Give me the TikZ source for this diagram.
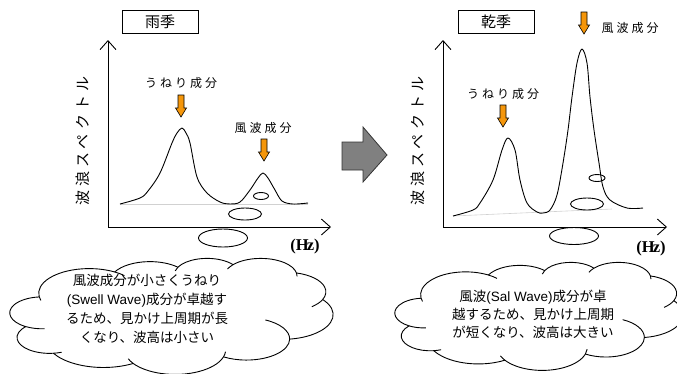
\documentclass[tikz,border=0pt]{standalone}
\usepackage{fontspec}
\setmainfont{Noto Sans CJK JP}
\newfontfamily\hzfont{Liberation Serif}
\newfontfamily\latinsans{Liberation Sans}
\usetikzlibrary{arrows.meta}
\definecolor{peakorange}{RGB}{245,150,10}
\definecolor{blockgrey}{RGB}{128,128,128}
\tikzset{
  axis/.style={line width=0.9pt, -{Straight Barb[length=9pt,width=16pt,line width=0.9pt]}},
  season/.style={draw, line width=1pt, minimum width=76pt, minimum height=23pt, inner sep=0pt, font=\fontsize{15}{15}\selectfont},
  peaklabel/.style={inner sep=0pt, font=\fontsize{12}{12}\selectfont\addfontfeature{LetterSpace=25}},
  ylab/.style={rotate=90, inner sep=0pt, font=\fontsize{15}{15}\selectfont\addfontfeature{LetterSpace=28}},
  hz/.style={inner sep=0pt, font=\hzfont\bfseries\fontsize{16.5}{16.5}\selectfont},
  spec/.style={line width=0.9pt, line join=round},
  basegrey/.style={draw=black!18, line width=0.6pt},
  bubble/.style={draw, line width=0.9pt},
  cloudline/.style={draw, line width=0.9pt, line join=round},
  cloudtext/.style={align=center, inner sep=0pt},
  oarr/.pic={\draw[fill=peakorange, line width=0.6pt, line join=miter] (-3,0) -- (3,0) -- (3,13) -- (5.5,13) -- (0,22) -- (-5.5,13) -- (-3,13) -- cycle;},
}
% convert an OOXML arcTo (visual angles) to TikZ parametric start / delta
\newcommand\pptprep[5]{%
  \pgfmathsetmacro\pptTs{atan2((#2)*sin(#4),(#3)*cos(#4))}%
  \pgfmathsetmacro\pptTe{atan2((#2)*sin((#4)+(#5)),(#3)*cos((#4)+(#5)))}%
  \pgfmathsetmacro\pptTd{\pptTe-\pptTs}%
  \pgfmathsetmacro\pptTd{ifthenelse((#5)>0, ifthenelse(\pptTd<0,\pptTd+360,\pptTd), ifthenelse(\pptTd>0,\pptTd-360,\pptTd))}%
  \expandafter\xdef\csname ppt#1s\endcsname{\pptTs}%
  \expandafter\xdef\csname ppt#1d\endcsname{\pptTd}%
}
\pptprep{A}{67.53}{91.90}{-190.48748}{123.78053}
\pptprep{B}{53.33}{72.67}{-144.10238}{89.94523}
\pptprep{C}{43.65}{59.45}{-145.80792}{99.72302}
\pptprep{D}{48.57}{65.95}{-130.98607}{117.24173}
\pptprep{E}{53.33}{72.73}{-78.70888}{109.02692}
\pptprep{F}{67.75}{92.20}{-46.26725}{130.269}
\pptprep{G}{57.85}{78.67}{0.62502}{114.03333}
\pptprep{H}{67.52}{92.15}{22.4516}{115.17255}
\pptprep{I}{77.20}{105.43}{66.24263}{75.71102}
\pptprep{J}{43.60}{59.18}{-274.94208}{146.73557}
\pptprep{K}{43.45}{59.45}{-246.8285}{152.51885}
\pptprep{a}{43.45}{59.45}{113.1715}{-26.4295}
\pptprep{b}{43.60}{59.18}{85.058}{-11.4475}
\pptprep{c}{67.52}{92.15}{137.6242}{14.0811}
\pptprep{d}{67.52}{92.15}{22.4517}{-15.9984}
\pptprep{e}{57.85}{78.67}{0.625}{-70.9174}
\pptprep{f}{53.33}{72.73}{30.318}{27.7515}
\pptprep{g}{48.57}{65.95}{-13.7443}{14.8589}
\pptprep{h}{48.57}{65.95}{-130.9861}{-18.1954}
\pptprep{i}{43.65}{59.45}{-145.8079}{-17.6864}
\pptprep{j}{67.53}{91.90}{-66.707}{12.3194}
\pptprep{k}{67.53}{91.90}{169.5126}{-11.8582}
% cloud outline in a 432 x 432 box (y down)
\newcommand\pptcloud[1]{%
  \draw[cloudline, fill=white] (39.00,143.70) coordinate (#1j0)
    arc[start angle=\pptAs, delta angle=\pptAd, x radius=67.53, y radius=91.90] coordinate (#1j1)
    arc[start angle=\pptBs, delta angle=\pptBd, x radius=53.33, y radius=72.67] coordinate (#1j2)
    arc[start angle=\pptCs, delta angle=\pptCd, x radius=43.65, y radius=59.45] coordinate (#1j3)
    arc[start angle=\pptDs, delta angle=\pptDd, x radius=48.57, y radius=65.95] coordinate (#1j4)
    arc[start angle=\pptEs, delta angle=\pptEd, x radius=53.33, y radius=72.73] coordinate (#1j5)
    arc[start angle=\pptFs, delta angle=\pptFd, x radius=67.75, y radius=92.20] coordinate (#1j6)
    arc[start angle=\pptGs, delta angle=\pptGd, x radius=57.85, y radius=78.67] coordinate (#1j7)
    arc[start angle=\pptHs, delta angle=\pptHd, x radius=67.52, y radius=92.15] coordinate (#1j8)
    arc[start angle=\pptIs, delta angle=\pptId, x radius=77.20, y radius=105.43] coordinate (#1j9)
    arc[start angle=\pptJs, delta angle=\pptJd, x radius=43.60, y radius=59.18] coordinate (#1j10)
    arc[start angle=\pptKs, delta angle=\pptKd, x radius=43.45, y radius=59.45] -- cycle;
  \draw[cloudline] (#1j10) arc[start angle=\pptas, delta angle=\pptad, x radius=43.45, y radius=59.45];
  \draw[cloudline] (#1j9) arc[start angle=\pptbs, delta angle=\pptbd, x radius=43.60, y radius=59.18];
  \draw[cloudline] (#1j8) arc[start angle=\pptcs, delta angle=\pptcd, x radius=67.52, y radius=92.15];
  \draw[cloudline] (#1j7) arc[start angle=\pptds, delta angle=\pptdd, x radius=67.52, y radius=92.15];
  \draw[cloudline] (#1j6) arc[start angle=\pptes, delta angle=\ppted, x radius=57.85, y radius=78.67];
  \draw[cloudline] (#1j5) arc[start angle=\pptfs, delta angle=\pptfd, x radius=53.33, y radius=72.73];
  \draw[cloudline] (#1j4) arc[start angle=\pptgs, delta angle=\pptgd, x radius=48.57, y radius=65.95];
  \draw[cloudline] (#1j3) arc[start angle=\pptHhs, delta angle=\pptHhd, x radius=48.57, y radius=65.95];
  \draw[cloudline] (#1j2) arc[start angle=\pptis, delta angle=\pptid, x radius=43.65, y radius=59.45];
  \draw[cloudline] (#1j1) arc[start angle=\pptjs, delta angle=\pptjd, x radius=67.53, y radius=91.90];
  \draw[cloudline] (#1j0) arc[start angle=\pptks, delta angle=\pptkd, x radius=67.53, y radius=91.90];
}
\let\pptHhs\relax
\begin{document}
\expandafter\let\expandafter\pptHhs\csname ppths\endcsname
\expandafter\let\expandafter\pptHhd\csname ppthd\endcsname
\begin{tikzpicture}[x=1pt,y=-1pt]
\useasboundingbox (0,0) rectangle (677,373);

% ---------------- left panel (rainy season) ----------------
\node[season] (rainy) at (160,21.5) {雨季};
\coordinate (lo) at (108,227);
\coordinate (ly) at (108,40);
\coordinate (lx) at (331,227);
\draw[axis] (lo) -- (ly);
\draw[axis] (lo) -- (lx);
\node[ylab] (lylab) at (83,141) {波浪スペクトル};
\node[hz] (lhz) at (305,247) {(H\kern-2pt z)};
\draw[basegrey] (120,204) -- (308,204);
\draw[spec] plot[smooth, tension=0.55] coordinates {
 (120,204) (140,198) (148,191) (160,173) (172,143) (177,133) (182,128) (186,133) (190,143)
 (197,177) (207,193) (220,202) (230,204) (240,202) (250,190) (258,178) (263,173) (268,178)
 (275,190) (282,201) (293,204) (308,203)};
\node[peaklabel] (lswell) at (181,83) {うねり成分};
\pic at (181,95) {oarr};
\node[peaklabel] (lwind) at (263,128) {風波成分};
\pic at (264,139) {oarr};
\draw[bubble] (261,196) ellipse [x radius=7.5, y radius=3.5];
\draw[bubble] (245,214) ellipse [x radius=16.5, y radius=6];
\draw[bubble] (223,238) ellipse [x radius=24.5, y radius=9];
\begin{scope}[shift={(10,258)}, x=0.74769pt, y=-0.26852pt]
  \pptcloud{L}
\end{scope}
\node[cloudtext, font=\fontsize{13.5}{19}\selectfont] (ltext) at (147,308.5) {風波成分が小さくうねり\\{\latinsans (Swell Wave)}成分が卓越す\\るため、見かけ上周期が長\\くなり、波高は小さい};

% ---------------- block arrow ----------------
\draw[fill=blockgrey, line width=0.8pt, draw=black!80] (342,142) -- (363,142) -- (363,127) -- (387,155) -- (363,182) -- (363,170) -- (342,170) -- cycle;

% ---------------- right panel (dry season) ----------------
\node[season] (dry) at (496,21.5) {乾季};
\coordinate (ro) at (443,227);
\coordinate (ry) at (443,40);
\coordinate (rx) at (667,227);
\draw[axis] (ro) -- (ry);
\draw[axis] (ro) -- (rx);
\node[ylab] (rylab) at (418,141) {波浪スペクトル};
\node[hz] (rhz) at (651,249) {(H\kern-2pt z)};
\draw[basegrey] (453,216) -- (612,209);
\draw[spec] plot[smooth, tension=0.55] coordinates {
 (453,216) (473,210) (480,203) (493,180) (502,150) (508,138) (515,150) (520,180) (527,203)
 (537,212) (543,213) (550,210) (557,195) (563,163) (568,130) (572,97) (577,63) (582,49)
 (587,63) (590,97) (594,130) (599,163) (603,187) (610,200) (627,208) (643,208)};
\node[peaklabel] (rswell) at (503,94) {うねり成分};
\pic at (503,105) {oarr};
\pic at (584,12) {oarr};
\node[peaklabel] (rwind) at (630,28) {風波成分};
\draw[bubble] (597,178) ellipse [x radius=8, y radius=3.5];
\draw[bubble] (587,204) ellipse [x radius=16.5, y radius=6];
\draw[bubble] (574,236) ellipse [x radius=24.5, y radius=8.5];
\begin{scope}[shift={(395,262)}, x=0.66667pt, y=-0.25pt]
  \pptcloud{R}
\end{scope}
\node[cloudtext, font=\fontsize{13.5}{18}\selectfont] (rtext) at (533,314) {風波{\latinsans (Sal Wave)}成分が卓\\越するため、見かけ上周期\\が短くなり、波高は大きい};
\end{tikzpicture}
\end{document}
